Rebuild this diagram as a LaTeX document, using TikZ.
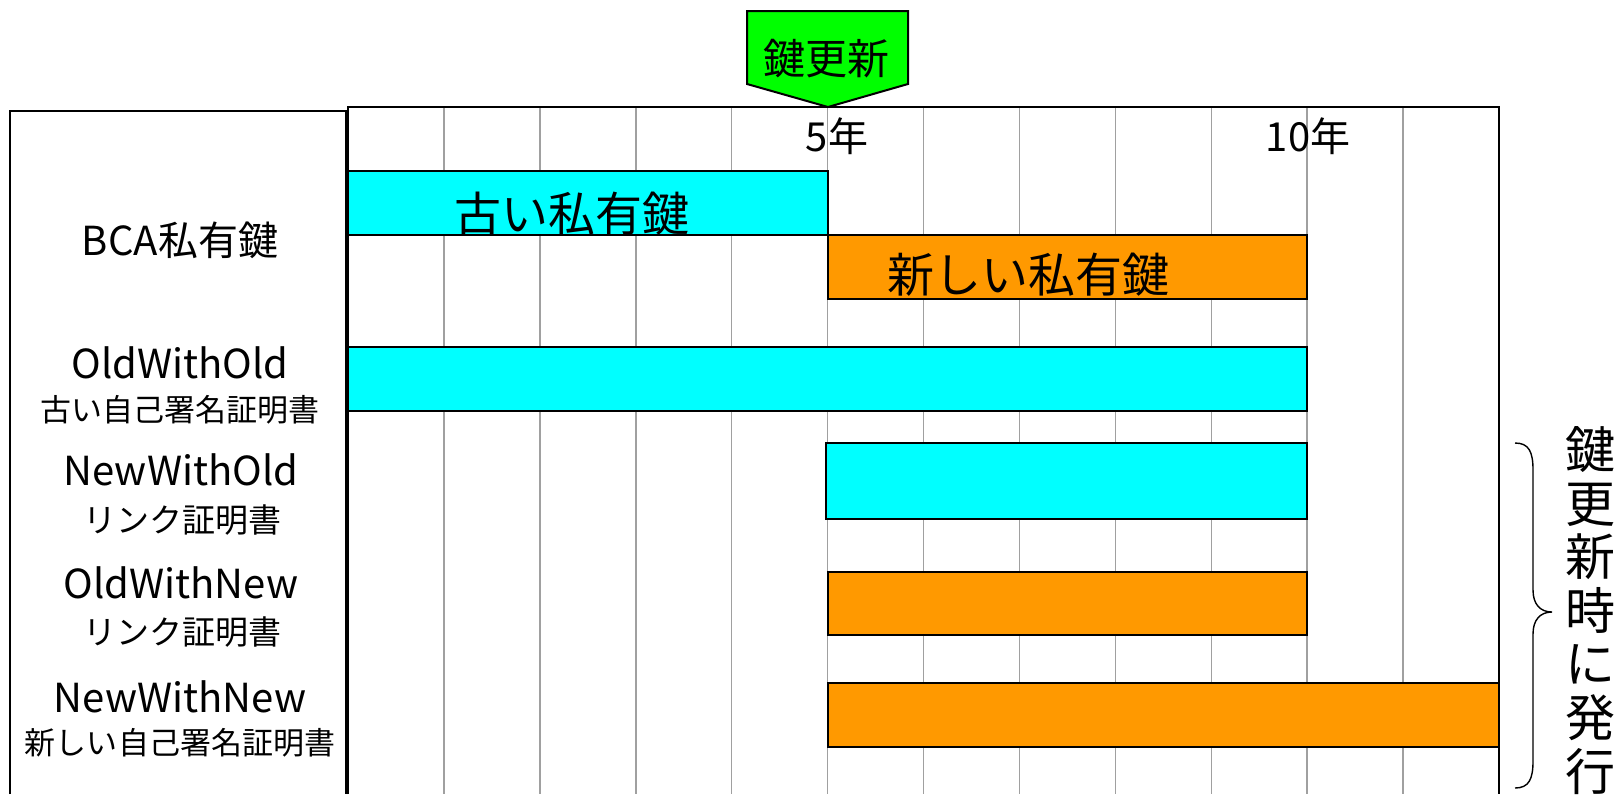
\documentclass[tikz,border=0pt]{standalone}
\usepackage{fontspec}
\setmainfont{Noto Sans CJK JP}
\definecolor{barcyan}{HTML}{00FFFF}
\definecolor{barorange}{HTML}{FF9900}
\definecolor{keygreen}{HTML}{00FF00}
\definecolor{gridgray}{HTML}{A0A0A0}
\newcommand\myfs[1]{\fontsize{#1}{#1}\selectfont}
\begin{document}
\begin{tikzpicture}[x=0.5pt,y=-0.5pt,
  txt/.style={inner sep=0pt,anchor=base},
  bar/.style={draw=black,line width=1pt},
  gridline/.style={draw=gridgray,line width=0.75pt},
  frame/.style={draw=black,line width=1pt},
  big/.style={font=\myfs{20pt}},
  small/.style={font=\myfs{15.5pt}},
  link/.style={font=\myfs{16.5pt}},
  bartext/.style={font=\myfs{23.5pt}}]
\useasboundingbox (0,0) rectangle (1620,794);
\fill[white] (0,0) rectangle (1620,794);
% left label box
\draw[frame] (10,794) -- (10,111) -- (346,111) -- (346,794);
% grid lines
\foreach \k in {1,...,11} \draw[gridline] ({348+\k*95.917},107) -- ({348+\k*95.917},794);
% chart frame
\draw[frame] (348,794) -- (348,107) -- (1499,107) -- (1499,794);
% bars
\draw[bar,fill=barcyan]   (348,171) rectangle (828,235);
\draw[bar,fill=barorange] (828,235) rectangle (1307,299);
\draw[bar,fill=barcyan]   (348,347) rectangle (1307,411);
\draw[bar,fill=barcyan]   (826,443) rectangle (1307,519);
\draw[bar,fill=barorange] (828,572) rectangle (1307,635);
\draw[bar,fill=barorange] (828,683) rectangle (1499,747);
% bar texts
\node[txt,bartext] (oldkey) at (572,231) {古い私有鍵};
\node[txt,bartext] (newkey) at (1028,292) {新しい私有鍵};
% key renewal marker
\draw[frame,fill=keygreen] (747,11) -- (908,11) -- (908,84) -- (828,107) -- (747,84) -- cycle;
\node[txt,font=\myfs{21pt}] (renew) at (826,74) {鍵更新};
% year labels
\node[txt,big] (y5) at (837,151) {5年};
\node[txt,big] (y10) at (1308,151) {10年};
% left labels
\node[txt,big] (lbca) at (180,255) {BCA私有鍵};
\node[txt,big] (loo1) at (180,378) {OldWithOld};
\node[txt,small] (loo2) at (180,421) {古い自己署名証明書};
\node[txt,big] (lno1) at (181,485) {NewWithOld};
\node[txt,link] (lno2) at (182,532) {リンク証明書};
\node[txt,big] (lon1) at (181,598) {OldWithNew};
\node[txt,link] (lon2) at (182,644) {リンク証明書};
\node[txt,big] (lnn1) at (180,712) {NewWithNew};
\node[txt,small] (lnn2) at (180,754) {新しい自己署名証明書};
% brace
\draw[line width=0.7pt] (1515,443) .. controls (1529,443) and (1533,452) .. (1533,470)
  -- (1533,590) .. controls (1533,604) and (1540,612) .. (1552,612)
  .. controls (1540,612) and (1533,620) .. (1533,634)
  -- (1533,761) .. controls (1533,779) and (1529,788) .. (1515,788);
% vertical text
\foreach \c [count=\i] in {鍵,更,新,時,に,発,行}
  \node[txt,font=\myfs{25pt}] (v\i) at (1590,{450+(\i-1)*53.6+18.5}) {\c};
\end{tikzpicture}
\end{document}
